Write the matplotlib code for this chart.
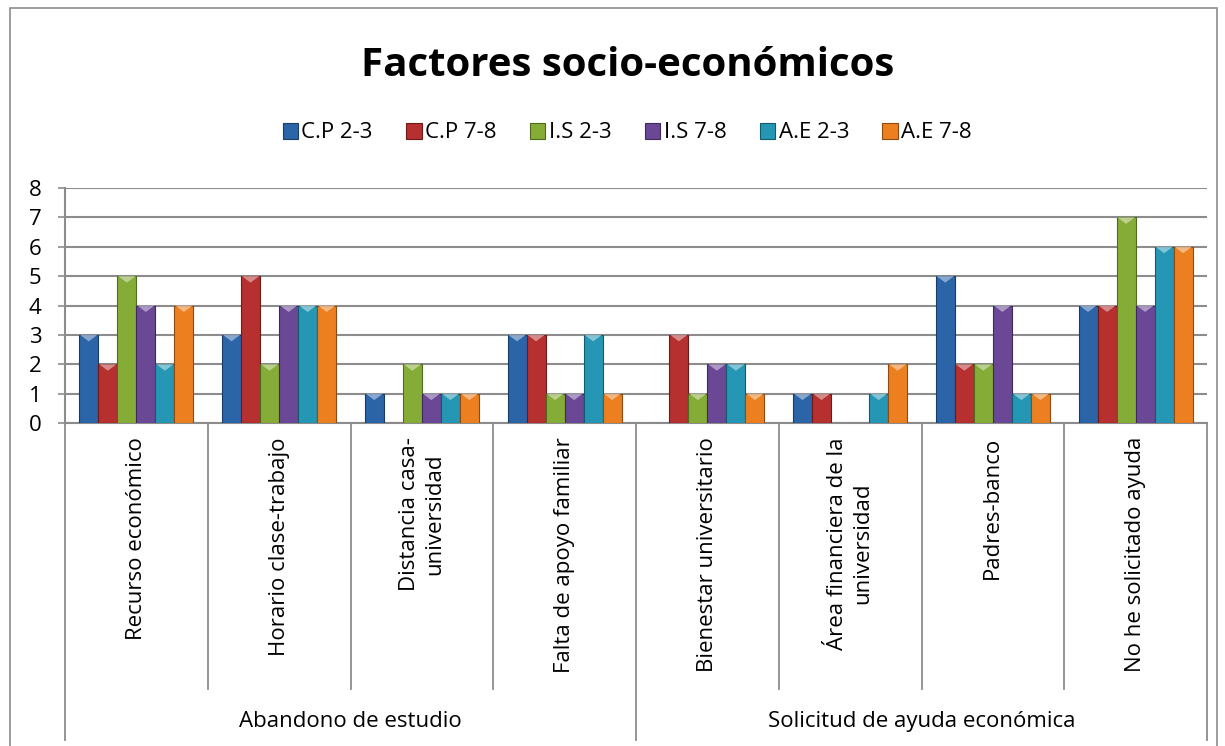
import numpy as np
import matplotlib
matplotlib.use("Agg")
from matplotlib import pyplot as plt
from matplotlib.patches import Rectangle, Polygon
from matplotlib.lines import Line2D
from matplotlib.colors import to_rgb

plt.rcParams['font.family'] = ['Open Sans', 'DejaVu Sans']

categories = ["Recurso económico", "Horario clase-trabajo", "Distancia casa-\nuniversidad",
              "Falta de apoyo familiar", "Bienestar universitario",
              "Área financiera de la\nuniversidad", "Padres-banco", "No he solicitado ayuda"]
groups = ["Abandono de estudio", "Solicitud de ayuda económica"]
series = ["C.P 2-3", "C.P 7-8", "I.S 2-3", "I.S 7-8", "A.E 2-3", "A.E 7-8"]
cp23 = [3, 3, 1, 3, 0, 1, 5, 4]
cp78 = [2, 5, 0, 3, 3, 1, 2, 4]
is23 = [5, 2, 2, 1, 1, 0, 2, 7]
is78 = [4, 4, 1, 1, 2, 0, 4, 4]
ae23 = [2, 4, 1, 3, 2, 1, 1, 6]
ae78 = [4, 4, 1, 1, 1, 2, 1, 6]
colors = ["#2C64A8", "#B5302F", "#86AC38", "#6A4896", "#2597B5", "#EC8020"]
edges = ["#183C6A", "#6E1A1A", "#51691F", "#3E2A5A", "#125A6C", "#8E4A0F"]

fs = 16

fig = plt.figure(figsize=(12.25, 7.46), dpi=100)
ax = fig.add_axes([65/1225, 1-423/746, (1207-65)/1225, (423-188)/746])

values = [cp23, cp78, is23, is78, ae23, ae78]
n = len(series)
w = 0.8 / n
x = np.arange(len(categories))
for i, vals in enumerate(values):
    bars = ax.bar(x - 0.4 + w*(i+0.5), vals, width=w, color=colors[i], edgecolor=edges[i],
                  linewidth=0.8, label=series[i], zorder=3)
    light = tuple(min(1, c*0.45 + 0.55) for c in to_rgb(colors[i]))
    # bevel highlight on top of each bar
    for b in bars:
        h = b.get_height()
        if h <= 0:
            continue
        x0, bw = b.get_x(), b.get_width()
        tri = Polygon([(x0 + 0.04*bw, h), (x0 + 0.96*bw, h), (x0 + bw/2, h - 0.22)],
                      closed=True, facecolor=light, edgecolor='none', alpha=0.8, zorder=4)
        ax.add_patch(tri)

ax.set_xlim(-0.5, len(categories)-0.5)
ax.set_ylim(0, 8)
ax.set_yticks(range(0, 9))
ax.tick_params(axis='y', labelsize=fs, length=5, color='#8c8c8c', width=1.2, pad=12)
ax.set_xticks([])
ax.grid(axis='y', color='#8c8c8c', linewidth=1.5, zorder=0)
for s in ['top', 'right']:
    ax.spines[s].set_visible(False)
for s in ['left', 'bottom']:
    ax.spines[s].set_color('#8c8c8c')
    ax.spines[s].set_linewidth(1.5)

# category axis below the plot
tr = ax.get_xaxis_transform()
for k in range(len(categories)+1):
    xb = k - 0.5
    if k in (0, 4, 8):
        y_end = -1.35
    else:
        y_end = -1.13
    ax.add_line(Line2D([xb, xb], [0, y_end], transform=tr, color='#8c8c8c',
                       linewidth=1.3, clip_on=False))
for k, c in enumerate(categories):
    ax.text(k, -0.06, c, transform=tr, rotation=90, ha='center', va='top',
            fontsize=fs, linespacing=1.25)
for g, name in enumerate(groups):
    ax.text(1.5 + 4*g, -1.27, name, transform=tr, ha='center', va='center', fontsize=fs)

fig.text(0.512, 1-65/746, "Factores socio-económicos", ha='center', va='center',
         fontsize=29, fontweight='bold')
fig.legend(loc='center', bbox_to_anchor=(0.512, 1-133/746), ncol=6, frameon=False,
           fontsize=fs, handlelength=0.7, handleheight=0.7, handletextpad=0.15,
           columnspacing=1.5)

fig.add_artist(Rectangle((10/1225, -0.01), 1207/1225, 1-8/746+0.01, transform=fig.transFigure,
                         fill=False, edgecolor='#8c8c8c', linewidth=1.2))

fig.savefig("out.png", dpi=100)
